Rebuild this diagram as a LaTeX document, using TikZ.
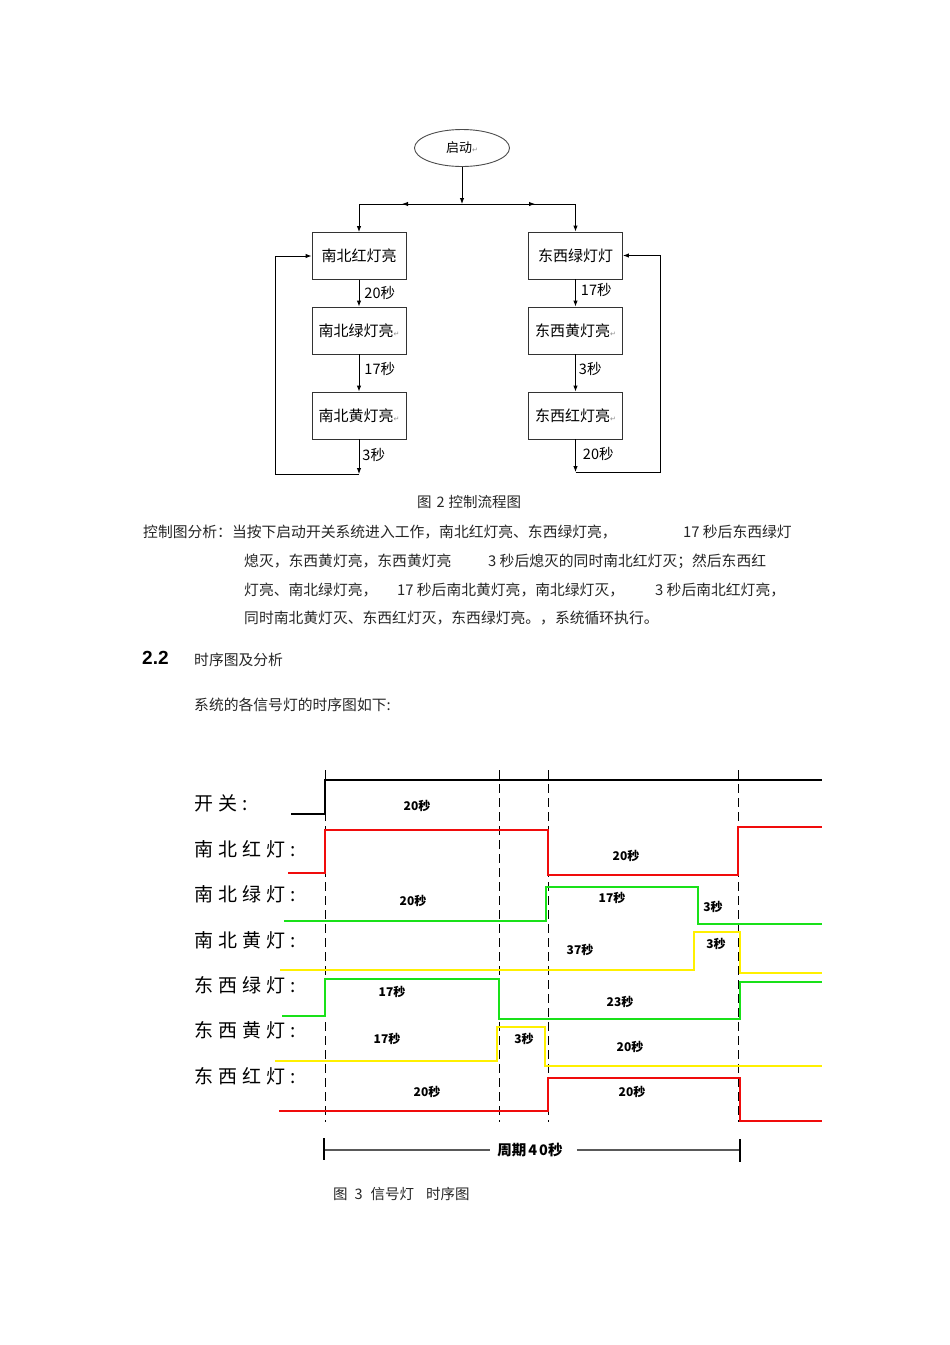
\documentclass[tikz,border=0pt]{standalone}
\usepackage{fontspec}
\setmainfont{Noto Sans CJK SC}
\newfontfamily\djv{DejaVu Sans}
\newfontfamily\arial{Liberation Sans}
\usetikzlibrary{arrows.meta,shapes.geometric}
\definecolor{sred}{RGB}{240,12,12}
\definecolor{sgreen}{RGB}{25,225,25}
\definecolor{syellow}{RGB}{255,240,0}
\newcommand{\pmk}{{\djv\fontsize{7}{8}\selectfont\color{black!45}↵}}
\newcommand{\ks}{\kern5pt}
\begin{document}
\begin{tikzpicture}[x=1pt,y=-1pt,
  box/.style={draw=black!80, line width=0.9pt, minimum width=94pt, minimum height=47pt, inner sep=0pt, font=\fontsize{15}{18}\selectfont},
  ell/.style={ellipse, draw=black!70, line width=0.9pt, minimum width=95pt, minimum height=37pt, inner sep=0pt, font=\fontsize{13}{15}\selectfont},
  arr/.style={-{Latex[length=6pt,width=4.5pt]}, line width=0.9pt},
  dur/.style={inner sep=0pt, font=\fontsize{14.5}{16}\selectfont},
  para/.style={anchor=west, inner sep=0pt, font=\fontsize{14.8}{17}\selectfont, text=black!85},
  sig/.style={line width=2.4pt, line join=miter},
  tlabel/.style={anchor=west, inner sep=0pt, font=\fontsize{19}{22}\selectfont},
  tnum/.style={inner sep=0pt, font=\bfseries\fontsize{12}{14}\selectfont},
  vdash/.style={line width=1pt, dash pattern=on 9pt off 5pt},
  captxt/.style={anchor=west, inner sep=0pt, font=\fontsize{14.5}{16}\selectfont, text=black!85},
]
\useasboundingbox (0,0) rectangle (950,1345);
\fill[white] (0,0) rectangle (950,1345);

% ---------------- flowchart ----------------
\node[ell] (start) at (462,148) {启动\pmk};
\coordinate (split) at (462,204);
\node[box] (b1) at (359,256) {南北红灯亮};
\node[box] (b2) at (359,330.5) {南北绿灯亮\pmk};
\node[box] (b3) at (359,415.5) {南北黄灯亮\pmk};
\node[box] (r1) at (575.5,255.5) {东西绿灯灯};
\node[box] (r2) at (575.5,330.5) {东西黄灯亮\pmk};
\node[box] (r3) at (575.5,415.5) {东西红灯亮\pmk};
\coordinate (lb) at (359,474);
\coordinate (rb) at (575.5,472);

\draw[arr] (start) -- (split);
\draw[arr] (split) -- ++(-60,0);
\draw[arr] (split) -- ++(73,0);
\draw[arr] (split) -| (b1);
\draw[arr] (split) -| (r1);
\draw[arr] (b1) -- node[dur, right=5pt, pos=0.5] (t1) {20秒} (b2);
\draw[arr] (b2) -- node[dur, right=5pt, pos=0.4] (t2) {17秒} (b3);
\draw[arr] (b3) -- node[dur, right=3pt, pos=0.45] (t3) {3秒} (lb);
\draw[arr] (lb) -- (275,474) |- (b1.west);
\draw[arr] (r1) -- node[dur, right=5pt, pos=0.4] (u1) {17秒} (r2);
\draw[arr] (r2) -- node[dur, right=3pt, pos=0.4] (u2) {3秒} (r3);
\draw[arr] (r3) -- node[dur, right=7pt, pos=0.45] (u3) {20秒} (rb);
\draw[arr] (rb) -- (660,472) |- (r1.east);

\node[captxt] (cap2) at (417,502) {图\kern5pt 2\kern4pt 控制流程图};

% ---------------- paragraph ----------------
\node[para] (p1a) at (143,532) {控制图分析：当按下启动开关系统进入工作，南北红灯亮、东西绿灯亮，};
\node[para] (p1b) at (683,532) {17 秒后东西绿灯};
\node[para] (p2a) at (244,561) {熄灭，东西黄灯亮，东西黄灯亮};
\node[para] (p2b) at (488,561) {3 秒后熄灭的同时南北红灯灭；然后东西红};
\node[para] (p3a) at (244,590) {灯亮、南北绿灯亮，};
\node[para] (p3b) at (397,590) {17 秒后南北黄灯亮，南北绿灯灭，};
\node[para] (p3c) at (655,590) {3 秒后南北红灯亮，};
\node[para] (p4) at (244,618) {同时南北黄灯灭、东西红灯灭，东西绿灯亮。，系统循环执行。};

\node[anchor=west, inner sep=0pt, font=\arial\bfseries\fontsize{19}{22}\selectfont] (sec) at (142,658) {2.2};
\node[para] (sect) at (194,660) {时序图及分析};
\node[para] (intro) at (194,705) {系统的各信号灯的时序图如下:};

% ---------------- timing diagram ----------------
\node[tlabel] (l0) at (194,803) {开\ks 关\ks :};
\node[tlabel] (l1) at (194,849) {南\ks 北\ks 红\ks 灯\ks :};
\node[tlabel] (l2) at (194,894) {南\ks 北\ks 绿\ks 灯\ks :};
\node[tlabel] (l3) at (194,940) {南\ks 北\ks 黄\ks 灯\ks :};
\node[tlabel] (l4) at (194,985) {东\ks 西\ks 绿\ks 灯\ks :};
\node[tlabel] (l5) at (194,1030) {东\ks 西\ks 黄\ks 灯\ks :};
\node[tlabel] (l6) at (194,1076) {东\ks 西\ks 红\ks 灯\ks :};

\foreach \xx in {325,499,548,738} \draw[vdash] (\xx,770) -- (\xx,1122);

\draw[sig, line width=2pt, black] (291,814) -| (325,780) -- (822,780);
\draw[sig, sred] (288,873) -| (325,830) -| (548,875) -| (738,827) -- (822,827);
\draw[sig, sgreen] (284,921) -| (546,887) -| (698,924) -- (822,924);
\draw[sig, syellow] (280,970) -| (694,932) -| (740,973) -- (822,973);
\draw[sig, sgreen] (282,1016) -| (325,979) -| (499,1019) -| (740,982) -- (822,982);
\draw[sig, syellow] (275,1061) -| (497,1027) -| (545,1066) -- (822,1066);
\draw[sig, sred] (279,1111) -| (548,1078) -| (740,1121) -- (822,1121);

\node[tnum] (n1) at (417,806) {20秒};
\node[tnum] (n2) at (413,901) {20秒};
\node[tnum] (n3) at (626,856) {20秒};
\node[tnum] (n4) at (612,898) {17秒};
\node[tnum] (n5) at (713,907) {3秒};
\node[tnum] (n6) at (716,944) {3秒};
\node[tnum] (n7) at (580,950) {37秒};
\node[tnum] (n8) at (392,992) {17秒};
\node[tnum] (n9) at (620,1002) {23秒};
\node[tnum] (n10) at (387,1039) {17秒};
\node[tnum] (n11) at (524,1039) {3秒};
\node[tnum] (n12) at (630,1047) {20秒};
\node[tnum] (n13) at (427,1092) {20秒};
\node[tnum] (n14) at (632,1092) {20秒};

\coordinate (pl) at (324,1150);
\coordinate (pr) at (740,1150);
\node[inner sep=0pt, font=\bfseries\fontsize{14.5}{16}\selectfont] (per) at (530,1150) {周期\kern2pt 4\kern2pt 0秒};
\draw[line width=1.5pt, black!65] (pl) -- ([xshift=-7pt]per.west);
\draw[line width=1.5pt, black!65] ([xshift=14pt]per.east) -- (pr);
\draw[line width=2pt] (324,1138) -- (324,1160);
\draw[line width=2pt] (740,1139) -- (740,1162);

\node[captxt] (cap3) at (333,1194) {图\kern7pt 3\kern8pt 信号灯\kern12pt 时序图};
\end{tikzpicture}
\end{document}
